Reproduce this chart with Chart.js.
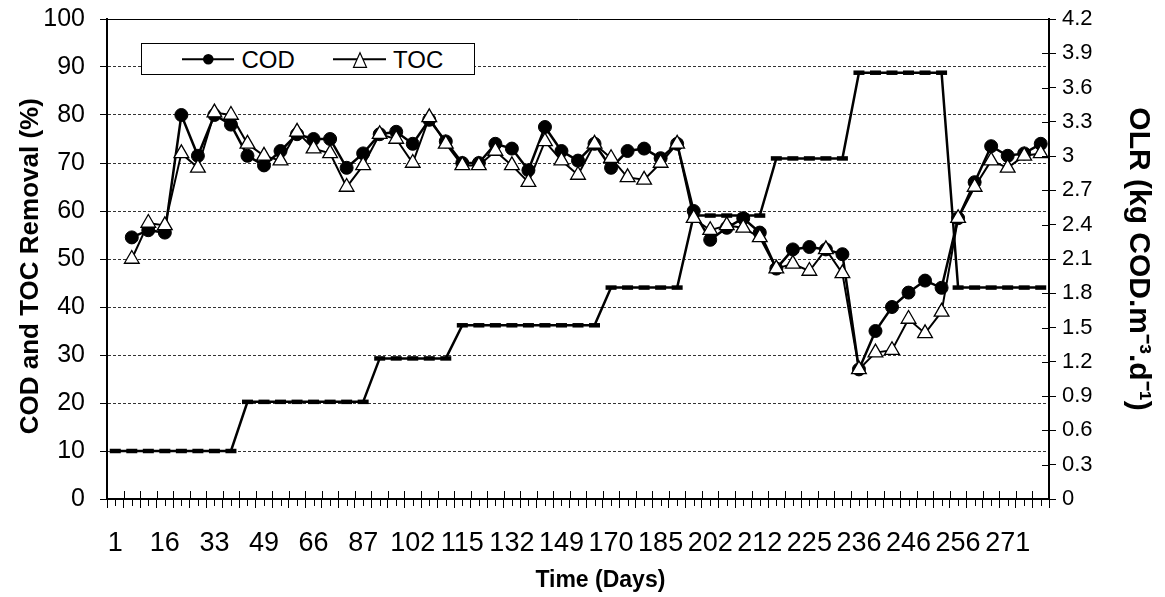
<!DOCTYPE html>
<html>
<head>
<meta charset="utf-8">
<script src="https://cdn.jsdelivr.net/npm/chart.js@4.4.1/dist/chart.umd.min.js"></script>
<style>
  html, body { margin: 0; padding: 0; background: #fff; }
  #wrap { position: relative; width: 1165px; height: 597px; }
  #legend { position: absolute; left: 141px; top: 43px; }
  #legend text { font-family: 'Liberation Sans', Arial, sans-serif; font-size: 24px; fill: #000; }
</style>
</head>
<body>
<div id="wrap">
  <canvas id="chart" width="1165" height="597"></canvas>
  <svg id="legend" width="334" height="32">
    <rect x="0.5" y="0.5" width="333" height="31" fill="#fff" stroke="#000" stroke-width="1"/>
    <line x1="41" y1="16.3" x2="93" y2="16.3" stroke="#000" stroke-width="2"/>
    <circle cx="67.3" cy="16.3" r="5.3" fill="#000"/>
    <text x="100.5" y="24.6">COD</text>
    <line x1="192" y1="16.3" x2="245" y2="16.3" stroke="#000" stroke-width="2"/>
    <polygon points="219,9.7 212.5,24.3 225.5,24.3" fill="#fff" stroke="#000" stroke-width="1.2"/>
    <text x="252" y="24.6">TOC</text>
  </svg>
</div>
<script>
// day labels shown under every third sampling point
const dayLabels = [1, 16, 33, 49, 66, 87, 102, 115, 132, 149, 170, 185, 202, 212, 225, 236, 246, 256, 271];
const pointsPerLabel = 3;

// removal efficiencies (%), one value per sampling point (first point has no measurement)
const codRemoval = [null, 54.5, 56, 55.5, 80, 71.5, 80, 78, 71.5, 69.5,
  72.5, 76, 75, 75, 69, 72, 76, 76.5, 74, 79,
  74.5, 70, 70, 74, 73, 68.5, 77.5, 72.5, 70.5, 74,
  69, 72.5, 73, 71, 74, 60, 54, 56.5, 58.5, 55.5,
  48, 52, 52.5, 52, 51, 27, 35, 40, 43, 45.5,
  44, 58.5, 66, 73.5, 71.5, 72, 74];
const tocRemoval = [null, 50, 57.5, 57, 72, 69, 80.5, 80, 74, 71.5,
  70.5, 76.5, 73, 72, 65, 69.5, 76, 75, 70, 79.5,
  74, 69.5, 69.5, 72.5, 69.5, 66, 74.5, 70.5, 67.5, 74,
  71, 67, 66.5, 70, 74, 58.5, 56, 57, 56.5, 54.5,
  48, 49, 47.5, 52, 47, 27, 30.5, 31, 37.5, 34.5,
  39, 58.5, 65, 70.5, 69, 71.5, 72];
// organic loading rate (kg COD/m3.d)
const olr = [0.42, 0.42, 0.42, 0.42, 0.42, 0.42, 0.42, 0.42, 0.85, 0.85,
  0.85, 0.85, 0.85, 0.85, 0.85, 0.85, 1.23, 1.23, 1.23, 1.23,
  1.23, 1.52, 1.52, 1.52, 1.52, 1.52, 1.52, 1.52, 1.52, 1.52,
  1.85, 1.85, 1.85, 1.85, 1.85, 2.48, 2.48, 2.48, 2.48, 2.48,
  2.98, 2.98, 2.98, 2.98, 2.98, 3.73, 3.73, 3.73, 3.73, 3.73,
  3.73, 1.85, 1.85, 1.85, 1.85, 1.85, 1.85];

const categoryLabels = codRemoval.map((_, i) =>
  i % pointsPerLabel === 0 ? String(dayLabels[i / pointsPerLabel]) : '');

const FONT = "'Liberation Sans', Arial, sans-serif";
Chart.defaults.font.family = FONT;
Chart.defaults.color = '#000';

// tick marks the axes can't draw themselves: inner half of the category ticks,
// short ticks at each point, and the inner half of the right axis ticks
const extraTicks = {
  id: 'extraTicks',
  afterDraw(chart) {
    const { ctx, scales: { x, y1 } } = chart;
    const base = x.top;
    ctx.save();
    ctx.strokeStyle = '#000';
    ctx.lineWidth = 1;
    ctx.beginPath();
    for (let i = 0; i <= categoryLabels.length; i++) {
      const px = Math.round(x.getPixelForValue(i - 0.5)) + 0.5;
      ctx.moveTo(px, base - 8); ctx.lineTo(px, base);
    }
    for (let i = 0; i < categoryLabels.length; i++) {
      const px = Math.round(x.getPixelForValue(i)) + 0.5;
      ctx.moveTo(px, base); ctx.lineTo(px, base + 7);
    }
    y1.ticks.forEach(t => {
      const py = Math.round(y1.getPixelForValue(t.value)) + 0.5;
      ctx.moveTo(y1.left - 7, py); ctx.lineTo(y1.left, py);
    });
    ctx.stroke();
    ctx.restore();
  }
};

// fixed axis sizes so the plot area lands where the original one is
const fixWidth = w => s => { s.width = w; s.paddingTop = 0; s.paddingBottom = 0; };

new Chart(document.getElementById('chart'), {
  type: 'line',
  data: {
    labels: categoryLabels,
    datasets: [
      {
        label: 'TOC', data: tocRemoval, yAxisID: 'y', order: 0,
        borderColor: '#000', borderWidth: 2,
        pointStyle: 'triangle', pointRadius: 8.5,
        pointBackgroundColor: '#fff', pointBorderColor: '#000', pointBorderWidth: 1.3
      },
      {
        label: 'COD', data: codRemoval, yAxisID: 'y', order: 1,
        borderColor: '#000', borderWidth: 2.5,
        pointStyle: 'circle', pointRadius: 6.5,
        pointBackgroundColor: '#000', pointBorderColor: '#000', pointBorderWidth: 1
      },
      {
        label: 'OLR', data: olr, yAxisID: 'y1', order: 2,
        borderColor: '#000', borderWidth: 2.5,
        pointStyle: 'line', pointRadius: 5.5,
        pointBorderColor: '#000', pointBorderWidth: 4.5
      }
    ]
  },
  options: {
    responsive: false,
    animation: false,
    events: [],
    layout: { padding: { top: 19, left: 0, right: 0, bottom: 0 } },
    plugins: { legend: { display: false }, tooltip: { enabled: false } },
    scales: {
      x: {
        offset: true,
        grid: { offset: true, drawOnChartArea: false, tickLength: 9, tickColor: '#000', lineWidth: 1 },
        border: { color: '#000', width: 2 },
        ticks: { autoSkip: false, maxRotation: 0, minRotation: 0, padding: 19, font: { size: 27 } },
        title: {
          display: true, text: '       Time (Days)',
          font: { size: 23, weight: 'bold' }, padding: { top: 0, bottom: 3 }
        },
        afterFit: s => { s.height = 98; }
      },
      y: {
        position: 'left', min: 0, max: 100,
        ticks: { stepSize: 10, padding: 15, font: { size: 25 } },
        grid: {
          color: c => (c.tick && c.tick.value === 100) ? '#000' : '#333',
          tickColor: '#000', tickLength: 7, lineWidth: 1
        },
        border: {
          color: '#000', width: 2,
          dash: c => (c.tick && c.tick.value === 100) ? [] : [3, 2]
        },
        title: {
          display: true, text: 'COD and TOC Removal (%)  ',
          font: { size: 26, weight: 'bold' }, padding: { top: 15, bottom: 0 }
        },
        afterFit: fixWidth(107)
      },
      y1: {
        position: 'right', min: 0, max: 4.2,
        ticks: {
          stepSize: 0.3, autoSkip: false, padding: 6, font: { size: 22 },
          callback: v => String(Math.round(v * 10) / 10)
        },
        grid: { drawOnChartArea: false, tickLength: 7, tickColor: '#000', lineWidth: 1 },
        border: { color: '#000', width: 2 },
        title: {
          display: true, text: 'OLR (kg COD.m⁻³.d⁻¹)',
          font: { size: 30, weight: 'bold' }, padding: { top: 9, bottom: 0 }
        },
        afterFit: fixWidth(116)
      }
    }
  },
  plugins: [extraTicks]
});
</script>
</body>
</html>
